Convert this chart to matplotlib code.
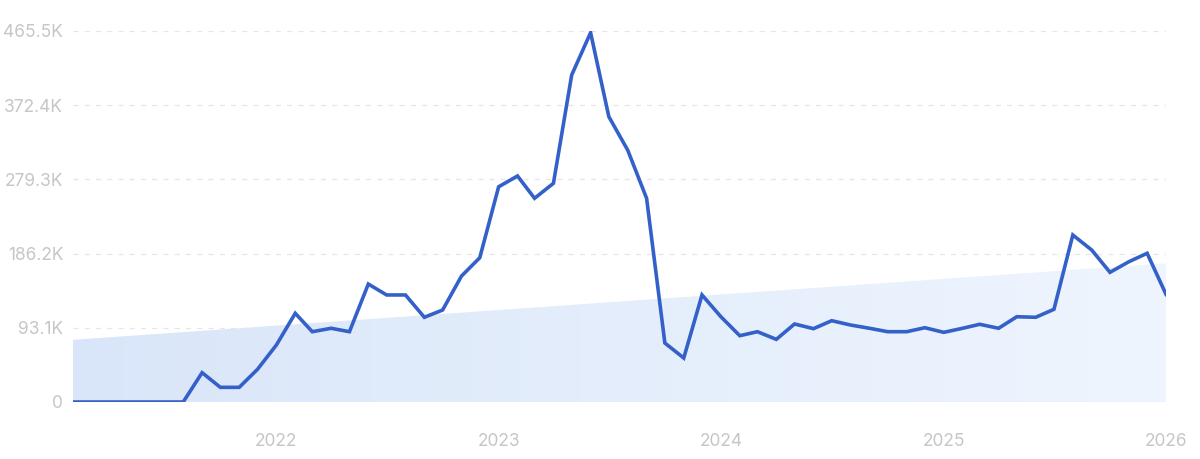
import numpy as np
import pandas as pd
import matplotlib
matplotlib.use("Agg")
from matplotlib import pyplot as plt
from matplotlib.colors import LinearSegmentedColormap
from matplotlib.patches import Polygon
import matplotlib.dates as mdates

# monthly values, Feb 2021 .. Jan 2026
months = pd.date_range("2021-02-01", "2026-01-01", freq="MS")
values = [
    0, 0, 0, 0, 0, 0, 0, 36800, 18400, 18400, 41000,
    71500, 111300, 88200, 92500, 88200, 148000, 134300, 134300, 106300, 115400, 158000, 181000, 270000,
    283600, 255600, 274400, 410300, 463400, 358000, 316000, 255600, 74000, 55200, 134300, 107000,
    83200, 88200, 78600, 97900, 92000, 102000, 96600, 92500, 88200, 88200, 93200, 87400,
    92500, 97500, 92500, 107000, 106300, 116300, 209500, 190700, 162700, 176000, 186600, 135100,
]
# linear trend shown as shaded area (start, end)
trend = [78000, 174000]

yticks = [0, 93100, 186200, 279300, 372400, 465500]
ytick_labels = ["0", "93.1K", "186.2K", "279.3K", "372.4K", "465.5K"]
year_ticks = pd.to_datetime(["2022-01-01", "2023-01-01", "2024-01-01", "2025-01-01", "2026-01-01"])

plt.rcParams['font.family'] = ['Inter', 'DejaVu Sans']

fig = plt.figure(figsize=(12, 4.59), dpi=100)
ax = fig.add_axes([73 / 1200, 57 / 459, (1166 - 73) / 1200, (402 - 31) / 459])

x = mdates.date2num(months)
x0, x1 = x[0], x[-1]

# gradient trend fill
cmap = LinearSegmentedColormap.from_list("fill", ["#d9e6f9", "#eff5fe"])
grad = np.linspace(0, 1, 256).reshape(1, -1)
im = ax.imshow(grad, cmap=cmap, aspect="auto", extent=[x0, x1, 0, trend[1]],
               origin="lower", zorder=1)
poly = Polygon([(x0, 0), (x0, trend[0]), (x1, trend[1]), (x1, 0)],
               closed=True, facecolor="none", edgecolor="none")
ax.add_patch(poly)
im.set_clip_path(poly)

for yt in yticks[1:]:
    ax.axhline(yt, color="#e6e6e6", lw=0.9, ls=(0, (4, 5)), zorder=0)
ax.axhline(0, color="#e6ecf5", lw=1, zorder=2)

ax.plot(x, values, color="#3461c9", lw=2.6, solid_joinstyle="miter", zorder=3)

ax.set_xlim(x0, x1)
ax.set_ylim(0, 465500)
ax.set_yticks(yticks)
ax.set_yticklabels(ytick_labels)
ax.set_xticks(mdates.date2num(year_ticks))
ax.set_xticklabels([str(d.year) for d in year_ticks])
ax.tick_params(axis="both", length=0, labelsize=12.5, labelcolor="#c6c6c6")
ax.tick_params(axis="y", pad=7)
ax.tick_params(axis="x", pad=22)
for s in ax.spines.values():
    s.set_visible(False)

fig.savefig("out.png", dpi=100)
